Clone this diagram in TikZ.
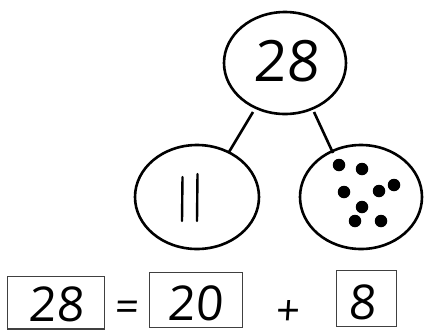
\documentclass[tikz,border=0pt]{standalone}
\usepackage{fontspec}
\newfontfamily\digf[FakeSlant=0.07]{Open Sans}
\begin{document}
\begin{tikzpicture}[x=1pt,y=-1pt,
  link/.style={draw=black,line width=2.6pt},
  box/.style={draw=black!75,line width=1.8pt},
  dot/.style={fill=black,circle,inner sep=0pt,minimum size=12.5pt},
  tally/.style={line width=2.4pt,line cap=round},
  num/.style={inner sep=0pt,font=\digf\fontsize{48}{48}\selectfont},
  sym/.style={inner sep=0pt,font=\digf\fontsize{42}{42}\selectfont}]
\useasboundingbox (0,0) rectangle (425,330);
% ellipses
\draw[line width=2.6pt] (285,63) ellipse [x radius=61,y radius=51];
\draw[line width=2.6pt] (197,197) ellipse [x radius=62,y radius=52];
\draw[line width=2.6pt] (361,197) ellipse [x radius=61,y radius=52];
\coordinate (tl) at (253,112);
\coordinate (tr) at (314,112);
\coordinate (lt) at (229,152);
\coordinate (rt) at (333,153);
\draw[link] (tl) -- (lt);
\draw[link] (tr) -- (rt);
\node[inner sep=0pt,font=\digf\fontsize{57}{57}\selectfont] (top) at (286,61) {28};
% tally
\draw[tally] (182.5,177) -- (182,221);
\draw[tally] (197.5,174) -- (197,221);
% dots
\foreach \p/\n in {{(339,165)}/d1,{(362,169)}/d2,{(344,192)}/d3,{(379,191)}/d4,{(394,185)}/d5,{(362,207)}/d6,{(355,221)}/d7,{(381,221)}/d8}
  \node[dot] (\n) at \p {};
% bottom boxes
\draw[box] (7.5,276.5) rectangle (104.5,329);
\draw[box] (149.5,272.5) rectangle (242.5,327.5);
\draw[box] (336.5,270.5) rectangle (396.5,326.5);
\node[num] (a) at (56,304.5) {28};
\node[num] (b) at (195,303) {20};
\node[num] (c) at (362,302.5) {8};
\node[sym] (eq) at (127,311) {=};
\node[sym] (pl) at (288,313) {+};
\end{tikzpicture}
\end{document}
